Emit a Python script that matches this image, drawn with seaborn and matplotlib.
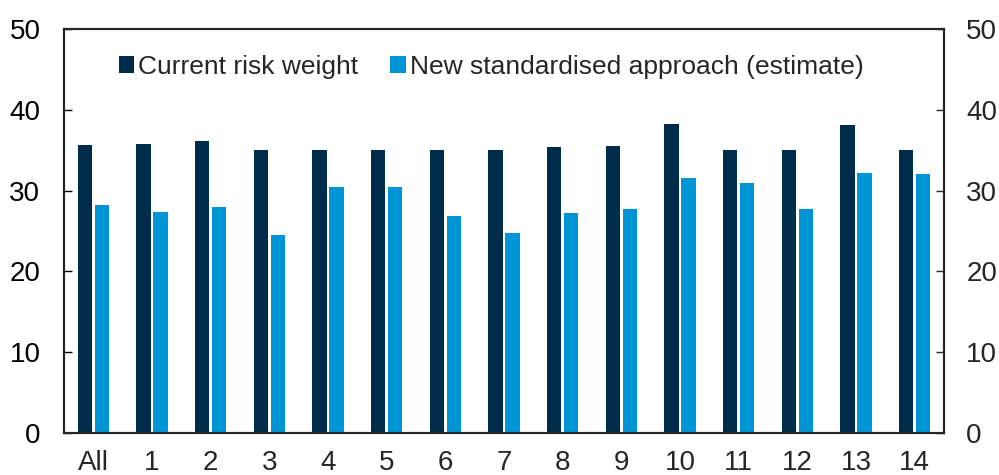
import pandas as pd
import matplotlib
matplotlib.use("Agg")
import matplotlib.pyplot as plt
import seaborn as sns
from matplotlib.ticker import FixedLocator

# ======================================
#           DATA
# ======================================
categories = ["All", "1", "2", "3", "4", "5", "6", "7", "8", "9", "10", "11", "12", "13", "14"]
current_rw = [35.6, 35.8, 36.1, 35.0, 35.0, 35.0, 35.0, 35.0, 35.4, 35.5, 38.2, 35.0, 35.0, 38.1, 35.0]
new_sa = [28.2, 27.4, 28.0, 24.5, 30.5, 30.4, 26.8, 24.7, 27.2, 27.7, 31.6, 31.0, 27.7, 32.2, 32.0]
series_names = ["Current risk weight", "New standardised approach (estimate)"]
colours = ["#002C4C", "#0096D6"]

df = pd.DataFrame({
    "Category": categories * 2,
    "Value": current_rw + new_sa,
    "Series": [series_names[0]] * len(categories) + [series_names[1]] * len(categories),
})

# ======================================
#           STYLE
# ======================================
sns.set_style("white")
plt.rcParams["font.family"] = ["Liberation Sans", "DejaVu Sans"]

fig = plt.figure(figsize=(9.99, 4.75), dpi=100)
ax = fig.add_axes([64 / 999, 1 - 433 / 475, 880 / 999, 404 / 475])

sns.barplot(data=df, x="Category", y="Value", hue="Series", order=categories,
            hue_order=series_names, palette=colours, width=0.58, gap=0.17,
            saturation=1, ax=ax, edgecolor="none")

ax.set_xlim(-0.5, len(categories) - 0.5)
ax.set_ylim(0, 50)
ax.set_yticks(range(0, 51, 10))
ax.set_xlabel("")
ax.set_ylabel("")

for s in ax.spines.values():
    s.set_visible(True)
    s.set_color("black")
    s.set_linewidth(1.5)

ax.tick_params(axis="y", direction="in", length=5.5, width=1, labelsize=20, pad=17, colors="black")
ax.tick_params(axis="x", which="major", length=0, labelsize=20, pad=12)
ax.xaxis.set_minor_locator(FixedLocator([i + 0.5 for i in range(len(categories) - 1)]))
ax.tick_params(axis="x", which="minor", direction="in", length=5.5, width=1)

# right axis
ax2 = ax.twinx()
ax2.set_ylim(0, 50)
ax2.set_yticks(range(0, 51, 10))
ax2.tick_params(axis="y", direction="in", length=5.5, width=1, labelsize=20, pad=16)
for s in ax2.spines.values():
    s.set_linewidth(1.5)

# legend
handles, labels = ax.get_legend_handles_labels()
ax.legend(handles, labels, loc="upper left", bbox_to_anchor=(0.05, 0.962), ncol=2,
          frameon=False, fontsize=19, handlelength=0.6, handleheight=0.6,
          handletextpad=0.15, columnspacing=1.2, borderaxespad=0)

fig.savefig("out.png", dpi=100)
